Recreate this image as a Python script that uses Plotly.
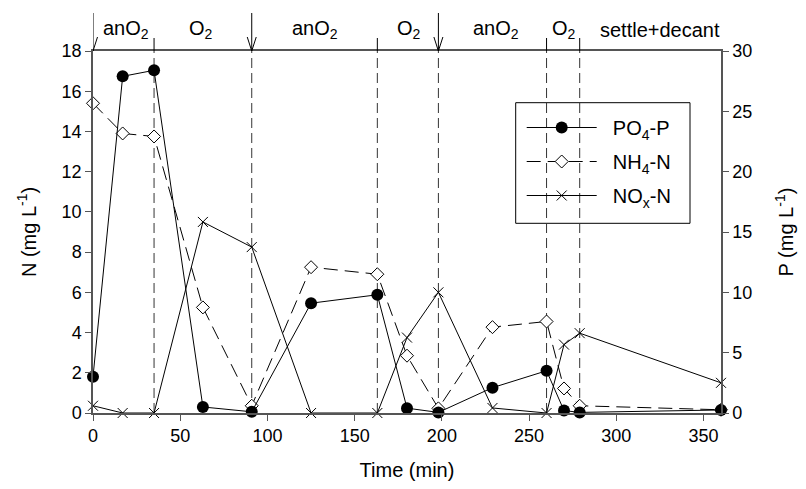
import plotly.graph_objects as go

# ---- data ----
time = [0, 17, 35, 63, 91, 125, 163, 180, 198, 229, 260, 270, 279, 360]
po4_p = [3.0, 27.9, 28.4, 0.5, 0.1, 9.1, 9.8, 0.4, 0.05, 2.1, 3.5, 0.2, 0.05, 0.25]
nh4_n = [15.4, 13.9, 13.75, 5.25, 0.36, 7.25, 6.9, 2.85, 0.23, 4.27, 4.55, 1.22, 0.36, 0.16]
nox_n = [0.36, 0.0, 0.0, 9.5, 8.25, 0.0, 0.0, 3.75, 6.0, 0.25, 0.0, 3.4, 3.97, 1.5]

phase_bounds = [35, 91, 163, 198, 260, 279]
feed_times = [0, 91, 198]
tick_bounds = [35, 163, 260, 279]
phase_labels = ["anO<sub>2</sub>", "O<sub>2</sub>", "anO<sub>2</sub>", "O<sub>2</sub>",
                "anO<sub>2</sub>", "O<sub>2</sub>", "settle+decant"]
phase_centers = [19, 62, 127, 181, 231, 270, 325]

x_ticks = [0, 50, 100, 150, 200, 250, 300, 350]
y_ticks = list(range(0, 19, 2))
y2_ticks = [0, 5, 10, 15, 20, 25, 30]

FONT = "Liberation Sans, Arial, sans-serif"
AX = "#555555"
SP = "&nbsp;&nbsp;"

fig = go.Figure()
fig.add_trace(go.Scatter(
    x=time, y=po4_p, name=SP + "PO<sub>4</sub>-P", yaxis="y2", mode="lines+markers",
    legendgroup="a",
    line=dict(color="black", width=1),
    marker=dict(symbol="circle", size=12, color="black"),
    cliponaxis=False))
fig.add_trace(go.Scatter(
    x=time, y=nh4_n, name=SP + "NH<sub>4</sub>-N", mode="lines+markers",
    legendgroup="b",
    line=dict(color="black", width=1, dash="14px,7px"),
    marker=dict(symbol="diamond", size=10, color="white", line=dict(color="black", width=1)),
    cliponaxis=False))
fig.add_trace(go.Scatter(
    x=time, y=nox_n, name=SP + "NO<sub>x</sub>-N", mode="lines+markers",
    legendgroup="c",
    line=dict(color="black", width=1),
    marker=dict(symbol="x-thin", size=10, color="black", line=dict(color="black", width=1)),
    cliponaxis=False))

W, H = 628.0, 362.0
shapes = []
for b in phase_bounds:
    shapes.append(dict(type="line", xref="x", yref="y", x0=b, x1=b, y0=0, y1=18,
                       line=dict(color="#333333", width=1, dash="10px,5px"), layer="below"))
for f in feed_times:
    shapes.append(dict(type="line", xref="x", yref="paper", x0=f, x1=f, y0=1, y1=1 + 38 / H,
                       line=dict(color="black", width=1)))
    shapes.append(dict(type="path", xref="x", yref="paper", xsizemode="pixel", ysizemode="pixel",
                       xanchor=f, yanchor=1, path="M -4.5,14 L 0,0 L 4.5,14",
                       line=dict(color="black", width=1)))
for b in tick_bounds:
    shapes.append(dict(type="line", xref="x", yref="paper", x0=b, x1=b, y0=1, y1=1 + 13 / H,
                       line=dict(color="black", width=1)))
# legend frame
shapes.append(dict(type="rect", xref="paper", yref="paper",
                   x0=(515.7 - 93) / W, x1=(690 - 93) / W,
                   y0=1 - (223.3 - 51) / H, y1=1 - (102.7 - 51) / H,
                   line=dict(color="black", width=1), fillcolor="white", layer="below"))

annotations = []
for lab, c in zip(phase_labels, phase_centers):
    annotations.append(dict(x=c, y=1 + 21 / H, xref="x", yref="paper", text=lab, showarrow=False,
                            font=dict(size=20, color="black", family=FONT), yanchor="middle"))

fig.update_layout(
    width=806, height=489,
    margin=dict(l=93, r=85, t=51, b=76),
    paper_bgcolor="white", plot_bgcolor="rgba(0,0,0,0)",
    font=dict(family=FONT, size=18, color="black"),
    showlegend=True,
    legend=dict(x=(521.7 - 93) / W, y=1 - (108 - 51) / H, xanchor="left", yanchor="top",
                borderwidth=0, bgcolor="rgba(0,0,0,0)",
                font=dict(size=20), itemwidth=70, tracegroupgap=5),
    xaxis=dict(range=[0, 360], tickvals=x_ticks, showgrid=False, zeroline=False,
               showline=True, linecolor=AX, linewidth=1.5, mirror=True,
               ticks="outside", ticklen=6, tickcolor=AX,
               title=dict(text="Time (min)", font=dict(size=20), standoff=18)),
    yaxis=dict(range=[0, 18], tickvals=y_ticks, showgrid=False, zeroline=False,
               showline=True, linecolor=AX, linewidth=1.5,
               ticks="outside", ticklen=6, tickcolor=AX,
               title=dict(text="N (mg L<sup>-1</sup>)", font=dict(size=20), standoff=20)),
    yaxis2=dict(range=[0, 30], tickvals=y2_ticks, overlaying="y", side="right",
                showgrid=False, zeroline=False,
                showline=True, linecolor=AX, linewidth=1.5,
                ticks="outside", ticklen=6, tickcolor=AX,
                title=dict(text="P (mg L<sup>-1</sup>)", font=dict(size=20), standoff=28)),
    shapes=shapes, annotations=annotations,
)

fig.write_html("out.html")
